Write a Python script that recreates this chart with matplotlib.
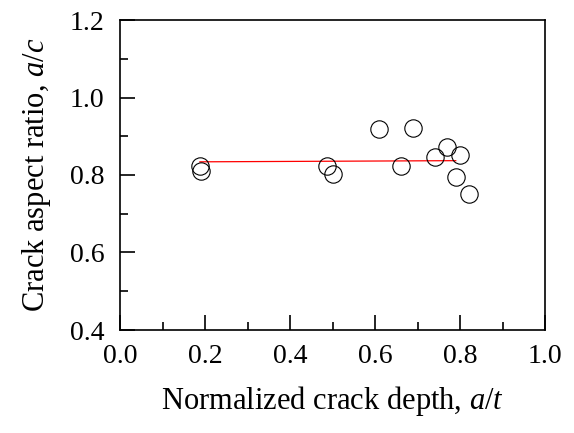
import matplotlib
matplotlib.use('Agg')
import matplotlib.pyplot as plt
from matplotlib.ticker import MultipleLocator

# crack measurements (normalized depth vs aspect ratio)
depth = [0.188, 0.190, 0.486, 0.500, 0.609, 0.689, 0.660, 0.740, 0.769, 0.799, 0.791, 0.820]
aspect = [0.823, 0.811, 0.824, 0.802, 0.919, 0.922, 0.823, 0.846, 0.872, 0.852, 0.794, 0.751]

# fitted line
fit_x = [0.188, 0.790]
fit_y = [0.834, 0.837]

plt.rcParams['font.family'] = ['Liberation Serif', 'DejaVu Serif']
plt.rcParams['mathtext.fontset'] = 'custom'
plt.rcParams['mathtext.it'] = 'Liberation Serif:italic'
plt.rcParams['mathtext.rm'] = 'Liberation Serif'

fig = plt.figure(figsize=(5.74, 4.33), dpi=100)
ax = fig.add_axes([120/574, 1 - 330/433, 425/574, 310/433])

ax.plot(fit_x, fit_y, color='red', lw=0.9, zorder=2)
ax.plot(depth, aspect, 'o', ms=12.5, mfc='none', mec='black', mew=0.8, zorder=3)

ax.set_xlim(0, 1.0)
ax.set_ylim(0.4, 1.2)
ax.xaxis.set_major_locator(MultipleLocator(0.2))
ax.xaxis.set_minor_locator(MultipleLocator(0.1))
ax.yaxis.set_major_locator(MultipleLocator(0.2))
ax.yaxis.set_minor_locator(MultipleLocator(0.1))
ax.xaxis.set_major_formatter(plt.FormatStrFormatter('%.1f'))
ax.yaxis.set_major_formatter(plt.FormatStrFormatter('%.1f'))

ax.tick_params(which='both', direction='in', top=False, right=False, width=1.2, labelsize=20)
ax.tick_params(which='major', length=11)
ax.tick_params(which='minor', length=6)
ax.tick_params(axis='x', which='major', pad=10)
ax.tick_params(axis='y', which='major', pad=11)
for s in ax.spines.values():
    s.set_linewidth(1.2)

ax.set_xlabel('Normalized crack depth, $\\mathit{a/t}$', fontsize=22, labelpad=11)
ax.set_ylabel('Crack aspect ratio, $\\mathit{a/c}$', fontsize=22, labelpad=12)

fig.savefig('out.png', dpi=100)
